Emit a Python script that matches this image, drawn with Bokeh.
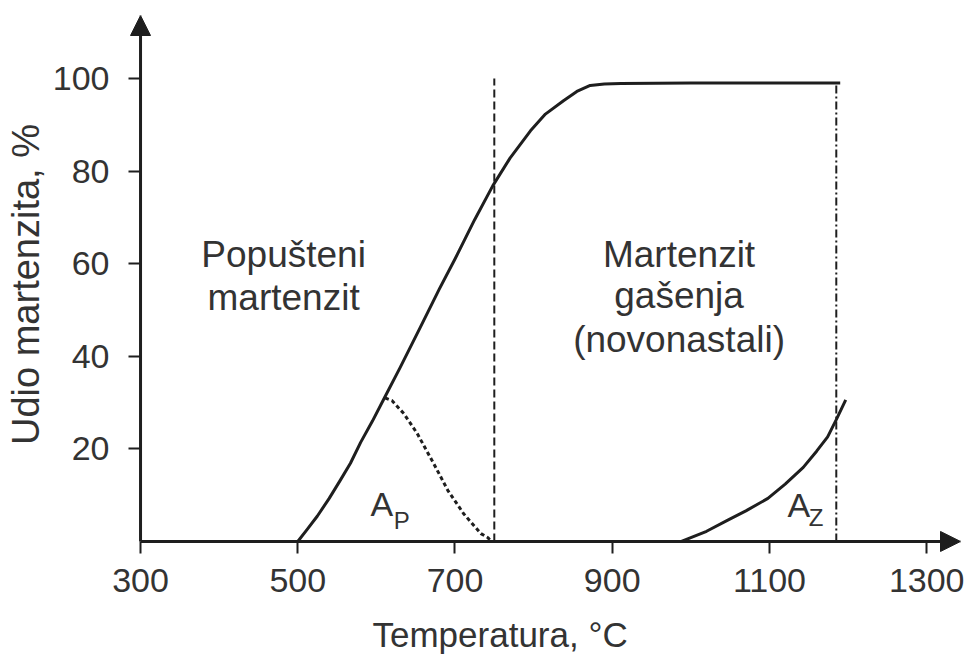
from bokeh.plotting import figure
from bokeh.models import Arrow, NormalHead, FixedTicker, Range1d, Title
from bokeh.core.properties import value
from bokeh.embed import file_html
from bokeh.resources import INLINE

# ---- data ----
x_ticks = [300, 500, 700, 900, 1100, 1300]
y_ticks = [20, 40, 60, 80, 100]

main_T = [500, 512, 525, 540, 554, 567, 580, 595, 609, 630, 656, 680, 700, 725, 748, 770, 796, 815, 838, 855, 872, 890, 911, 1000, 1100, 1190]
main_v = [0, 2.6, 5.5, 9.3, 13.2, 16.9, 21.4, 26.0, 30.6, 37.5, 46.3, 54.5, 61, 69.5, 76.8, 82.8, 88.7, 92.3, 95.2, 97.2, 98.5, 98.8, 98.9, 99, 99, 99]

ap_T = [611, 620, 635, 652, 673, 691, 711, 733, 742, 746]
ap_v = [31.0, 30.4, 27.6, 23.3, 16.8, 11.0, 6.0, 1.7, 0.8, 0]

az_T = [988, 1020, 1047, 1070, 1098, 1120, 1143, 1160, 1174, 1185, 1197]
az_v = [0, 2.2, 4.6, 6.6, 9.3, 12.4, 16.0, 19.5, 22.6, 26.3, 30.6]

dash_T = [750, 750]
dash_v = [0, 100]
dashdot_T = [1185, 1185]
dashdot_v = [0, 99]

FONT = "Liberation Sans"
INK = "#1e1e1e"
TXT = "#333333"
X_START, X_END = 284.7, 1343
Y_START, Y_END = -2.6, 113.6

p = figure(frame_width=832, frame_height=538,
           x_range=Range1d(X_START, X_END), y_range=Range1d(Y_START, Y_END),
           output_backend="svg", toolbar_location=None,
           min_border_left=128, min_border_top=15, min_border_right=10, min_border_bottom=0)
p.xgrid.visible = False
p.ygrid.visible = False
p.outline_line_color = None
p.background_fill_color = "white"
p.border_fill_color = "white"

# axes sit on the frame edge; their ticks point inwards to the arrow lines
for ax, ticks in ((p.xaxis, x_ticks), (p.yaxis, y_ticks)):
    ax.ticker = FixedTicker(ticks=ticks)
    ax.axis_line_color = None
    ax.major_tick_in = 12
    ax.major_tick_out = 0
    ax.major_tick_line_width = 2
    ax.major_tick_line_color = INK
    ax.minor_tick_line_color = None
    ax.major_label_text_font = FONT
    ax.major_label_text_font_size = "34px"
    ax.major_label_text_color = TXT
p.xaxis.major_label_standoff = 15
p.yaxis.major_label_standoff = 19

p.yaxis.axis_label = "Udio martenzita, %"
p.yaxis.axis_label_text_font = FONT
p.yaxis.axis_label_text_font_size = "38px"
p.yaxis.axis_label_text_font_style = "normal"
p.yaxis.axis_label_text_color = TXT
p.yaxis.axis_label_standoff = 3

p.add_layout(Title(text="Temperatura, °C", align="left", offset=244,
                   text_font=FONT, text_font_size="35px", text_font_style="normal",
                   text_color=TXT, standoff=36), "below")

# axes with arrows
head = dict(size=20, fill_color=INK, line_color=INK)
p.add_layout(Arrow(end=NormalHead(**head), x_start=300, y_start=0, x_end=300, y_end=Y_END,
                   line_width=3, line_color=INK))
p.add_layout(Arrow(end=NormalHead(**head), x_start=300, y_start=0, x_end=X_END, y_end=0,
                   line_width=3, line_color=INK))

# curves
p.line(main_T, main_v, line_width=3, line_color=INK, line_join="round")
p.line(ap_T, ap_v, line_width=3, line_color=INK, line_dash="4 3")
p.line(az_T, az_v, line_width=3, line_color=INK, line_join="round")
p.line(dash_T, dash_v, line_width=2, line_color=INK, line_dash="8 4")
p.line(dashdot_T, dashdot_v, line_width=2, line_color=INK, line_dash="8 3 2 3")

# region texts
big = "37px"
p.text(x=[482, 482], y=[62.0, 52.6], text=["Popušteni", "martenzit"],
       text_align="center", text_baseline="alphabetic",
       text_font=value(FONT), text_font_size=big, text_color=TXT)
p.text(x=[985, 985, 985], y=[62.0, 53.2, 43.6], text=["Martenzit", "gašenja", "(novonastali)"],
       text_align="center", text_baseline="alphabetic",
       text_font=value(FONT), text_font_size=big, text_color=TXT)
p.text(x=[592.6, 1123], y=[8.0, 7.8], text=["A", "A"],
       text_align="left", text_baseline="alphabetic",
       text_font=value(FONT), text_font_size="34px", text_color=TXT)
p.text(x=[622, 1150], y=[4.6, 5.2], text=["P", "Z"],
       text_align="left", text_baseline="alphabetic",
       text_font=value(FONT), text_font_size="24px", text_color=TXT)

open("out.html", "w").write(file_html(p, INLINE))
